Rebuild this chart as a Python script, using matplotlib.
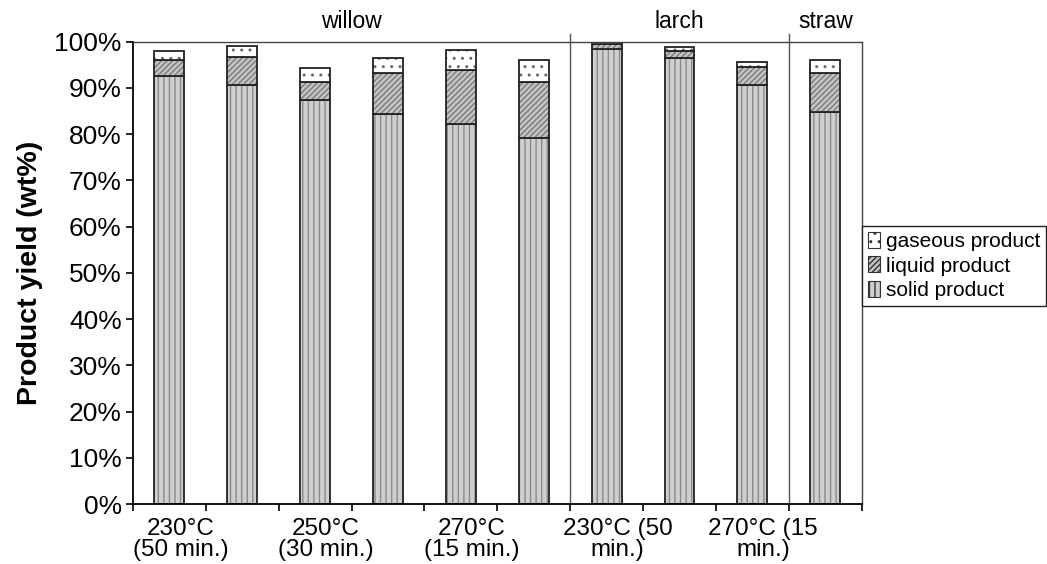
import matplotlib
matplotlib.use("Agg")
import matplotlib.pyplot as plt
import matplotlib.patches as mpatches
import numpy as np

plt.rcParams['font.family'] = ['Liberation Sans', 'DejaVu Sans']

# values (wt%)
solid = [92.6, 90.6, 87.4, 84.4, 82.3, 79.1, 98.4, 96.5, 90.7, 84.7]
liquid = [3.4, 6.1, 3.8, 8.8, 11.5, 12.3, 1.1, 1.6, 3.8, 8.5]
gas = [2.0, 2.3, 3.1, 3.3, 4.4, 4.7, 0.4, 0.7, 1.2, 2.9]

tick_labels = ["230°C\n(50 min.)", "250°C\n(30 min.)", "270°C\n(15 min.)",
               "230°C (50\nmin.)", "270°C (15\nmin.)"]
groups = ["willow", "larch", "straw"]
group_sizes = [6, 3, 1]

x = np.arange(len(solid))
bottom_liq = np.array(solid)
bottom_gas = bottom_liq + np.array(liquid)
width = 0.41

fig = plt.figure(figsize=(10.47, 5.64), dpi=100)
ax = fig.add_axes([0.127, 0.106, 0.696, 0.820])

styles = [
    ("solid product", solid, 0, "#cfcfcf", "|||", "#8a8a8a"),
    ("liquid product", liquid, bottom_liq, "#c4c4c4", "//////", "#7a7a7a"),
    ("gaseous product", gas, bottom_gas, "white", "..", "#6a6a6a"),
]
handles = []
for name, vals, bot, fc, hatch, hc in styles:
    ax.bar(x, vals, width, bottom=bot, color=fc, hatch=hatch, edgecolor=hc, linewidth=0)
    ax.bar(x, vals, width, bottom=bot, fill=False, edgecolor="#222222", linewidth=1.3)
    handles.append(mpatches.Patch(facecolor=fc, hatch=hatch, edgecolor="#333333", linewidth=0.8, label=name))

ax.set_xlim(-0.5, len(solid) - 0.5)
ax.set_ylim(0, 100)
ax.set_yticks(np.arange(0, 101, 10))
ax.set_yticklabels([f"{v}%" for v in range(0, 101, 10)], fontsize=19)
ax.tick_params(axis="y", direction="out", length=5, width=1.2, pad=3)

# category labels on every other category, boundaries as tick marks
ax.set_xticks(x[::2] + 0.15)
ax.set_xticklabels(tick_labels, fontsize=17.5, linespacing=0.95)
ax.tick_params(axis="x", which="major", length=0, pad=10)
ax.set_xticks(np.arange(-0.5, len(solid), 1), minor=True)
ax.tick_params(axis="x", which="minor", direction="out", length=5, width=1.2)

for side in ["top", "right"]:
    ax.spines[side].set_color("#444444")
    ax.spines[side].set_linewidth(1.0)
for side in ["left", "bottom"]:
    ax.spines[side].set_linewidth(1.3)

ax.set_ylabel("Product yield (wt%)", fontsize=20.5, fontweight="bold", labelpad=8)

# group separators and names
start = -0.5
for name, n in zip(groups, group_sizes):
    end = start + n
    ax.text((start + end) / 2, 104.3, name, ha="center", va="center", fontsize=16.5)
    if end < len(solid) - 0.5:
        ax.plot([end, end], [0, 101.6], color="#555555", linewidth=1.0, clip_on=False)
    start = end

ax.legend(handles[::-1], [h.get_label() for h in handles[::-1]],
          loc="center left", bbox_to_anchor=(1.0, 0.515), fontsize=15,
          frameon=True, fancybox=False, edgecolor="#222222", framealpha=1,
          handlelength=0.6, handleheight=0.8, handletextpad=0.25,
          labelspacing=0.25, borderpad=0.3, borderaxespad=0)

fig.savefig("out.png", dpi=100)
